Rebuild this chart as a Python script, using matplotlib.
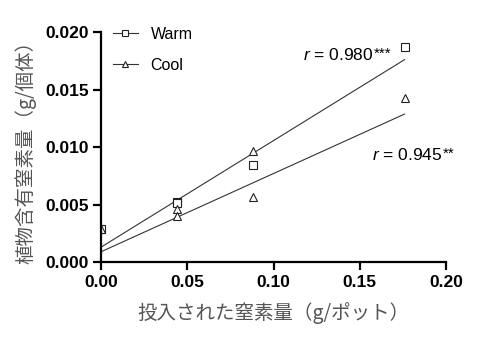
import matplotlib
matplotlib.use("Agg")
import matplotlib.pyplot as plt
import numpy as np

# data
warm_x = [0.0, 0.044, 0.044, 0.088, 0.176]
warm_y = [0.0029, 0.0052, 0.0051, 0.0084, 0.0187]
cool_x = [0.0, 0.044, 0.044, 0.088, 0.088, 0.176]
cool_y = [0.0029, 0.0046, 0.0040, 0.00965, 0.00565, 0.0143]

# regression lines (intercept, slope)
warm_fit = [0.0013, 0.0926]
cool_fit = [0.0009, 0.068]
fit_x = [0.0, 0.176]

xticks = [0.00, 0.05, 0.10, 0.15, 0.20]
yticks = [0.000, 0.005, 0.010, 0.015, 0.020]

plt.rcParams['font.family'] = ['Liberation Sans', 'Noto Sans CJK JP', 'DejaVu Sans']
plt.rcParams['mathtext.fontset'] = 'custom'
plt.rcParams['mathtext.it'] = 'Liberation Sans:italic'
plt.rcParams['mathtext.rm'] = 'Liberation Sans'

fig = plt.figure(figsize=(5, 3.4), dpi=100)
ax = fig.add_axes([0.202, 0.229, 0.69, 0.677])

fx = np.array(fit_x)
ax.plot(fx, warm_fit[0] + warm_fit[1] * fx, color='#333333', lw=0.8)
ax.plot(fx, cool_fit[0] + cool_fit[1] * fx, color='#333333', lw=0.8)

ax.plot(warm_x, warm_y, ls='none', marker='s', ms=6, mfc='white', mec='#222222', mew=0.8)
ax.plot(cool_x, cool_y, ls='none', marker='^', ms=6, mfc='white', mec='#222222', mew=0.8)

# legend handles
h1, = ax.plot([], [], color='#333333', lw=0.8, marker='s', ms=4.5, mfc='white', mec='#222222', mew=0.8)
h2, = ax.plot([], [], color='#333333', lw=0.8, marker='^', ms=4.5, mfc='white', mec='#222222', mew=0.8)
fig.legend([h1, h2], ['Warm', 'Cool'], loc='upper left', bbox_to_anchor=(0.226, 0.921),
           frameon=False, fontsize=11.5, handlelength=1.55, labelspacing=1.0,
           handletextpad=0.8, borderpad=0, borderaxespad=0)

t1 = ax.text(0.117, 0.0180, r'$r$ = 0.980', ha='left', va='center', fontsize=12.5)
ax.annotate('***', xy=(1, 1), xycoords=t1, xytext=(0.5, 0.5), textcoords='offset points',
            ha='left', va='top', fontsize=11)
t2 = ax.text(0.157, 0.0093, r'$r$ = 0.945', ha='left', va='center', fontsize=12.5)
ax.annotate('**', xy=(1, 1), xycoords=t2, xytext=(0.5, 0.5), textcoords='offset points',
            ha='left', va='top', fontsize=11)

ax.set_xlim(0, 0.20)
ax.set_ylim(0, 0.020)
ax.set_xticks(xticks)
ax.set_yticks(yticks)
ax.set_xticklabels(['%.2f' % v for v in xticks], fontweight='bold', fontsize=12.5)
ax.set_yticklabels(['%.3f' % v for v in yticks], fontweight='bold', fontsize=12.5)

for s in ['top', 'right']:
    ax.spines[s].set_visible(False)
for s in ['left', 'bottom']:
    ax.spines[s].set_linewidth(1.6)
ax.tick_params(width=1.6, length=6, direction='out', pad=3)
ax.set_clip_on(False)

ax.set_xlabel('投入された窒素量（g/ポット）', fontsize=14, color='#555555',
              family=['Noto Sans CJK JP', 'DejaVu Sans'], labelpad=9)
ax.set_ylabel('植物含有窒素量（g/個体）', fontsize=14, color='#555555',
              family=['Noto Sans CJK JP', 'DejaVu Sans'], labelpad=6)

fig.savefig('out.png', dpi=100)
